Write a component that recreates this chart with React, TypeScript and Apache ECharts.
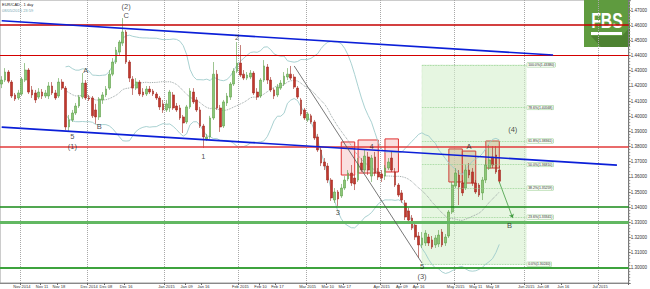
import React, { useEffect, useRef } from 'react';
import * as echarts from 'echarts';

// ---------- data ----------
const categoryStart = [2014, 9, 24];
const categoryCount = 187;

function buildWeekdays(): string[] {
  const out: string[] = [];
  const d = new Date(Date.UTC(categoryStart[0], categoryStart[1], categoryStart[2]));
  while (out.length < categoryCount) {
    const wd = d.getUTCDay();
    if (wd !== 0 && wd !== 6) out.push(d.toISOString().slice(0, 10));
    d.setUTCDate(d.getUTCDate() + 1);
  }
  return out;
}
const categories = buildWeekdays();

// [open, close, low, high]
const ohlc: number[][] = [
  [1.4212, 1.4238, 1.4185, 1.4264], [1.4238, 1.4291, 1.4225, 1.4317], [1.4291, 1.4231, 1.4218, 1.4304],
  [1.4225, 1.4133, 1.4120, 1.4238], [1.4140, 1.4113, 1.4100, 1.4153], [1.4120, 1.4153, 1.4107, 1.4173],
  [1.4146, 1.4244, 1.4133, 1.4258], [1.4238, 1.4304, 1.4225, 1.4350], [1.4304, 1.4159, 1.4146, 1.4317],
  [1.4173, 1.4140, 1.4120, 1.4199], [1.4153, 1.4107, 1.4087, 1.4173], [1.4126, 1.4159, 1.4113, 1.4185],
  [1.4159, 1.4133, 1.4113, 1.4179], [1.4133, 1.4153, 1.4120, 1.4173], [1.4133, 1.4199, 1.4113, 1.4225],
  [1.4199, 1.4153, 1.4140, 1.4225], [1.4153, 1.4120, 1.4107, 1.4173], [1.4133, 1.4225, 1.4120, 1.4251],
  [1.4225, 1.4185, 1.4173, 1.4244], [1.4185, 1.3929, 1.3909, 1.4199], [1.3929, 1.3975, 1.3902, 1.4008],
  [1.3975, 1.4021, 1.3962, 1.4041], [1.4021, 1.4067, 1.4008, 1.4087], [1.4067, 1.4126, 1.4054, 1.4140],
  [1.4126, 1.4218, 1.4113, 1.4284], [1.4218, 1.4120, 1.4107, 1.4238], [1.4120, 1.4113, 1.4100, 1.4140],
  [1.4120, 1.4002, 1.3988, 1.4133], [1.4041, 1.3995, 1.3949, 1.4081], [1.3995, 1.4113, 1.3975, 1.4126],
  [1.4107, 1.4140, 1.4081, 1.4159], [1.4140, 1.4179, 1.4126, 1.4199], [1.4185, 1.4277, 1.4173, 1.4304],
  [1.4277, 1.4357, 1.4264, 1.4383], [1.4357, 1.4436, 1.4344, 1.4456], [1.4423, 1.4489, 1.4403, 1.4502],
  [1.4482, 1.4555, 1.4463, 1.4647], [1.4555, 1.4357, 1.4344, 1.4568], [1.4357, 1.4251, 1.4225, 1.4370],
  [1.4244, 1.4185, 1.4140, 1.4264], [1.4185, 1.4225, 1.4173, 1.4251], [1.4225, 1.4146, 1.4133, 1.4238],
  [1.4159, 1.4140, 1.4126, 1.4185], [1.4146, 1.4179, 1.4133, 1.4199], [1.4179, 1.4159, 1.4146, 1.4199],
  [1.4166, 1.4146, 1.4133, 1.4179], [1.4146, 1.4120, 1.4107, 1.4159], [1.4120, 1.4061, 1.4041, 1.4133],
  [1.4081, 1.4041, 1.4021, 1.4107], [1.4041, 1.4081, 1.4028, 1.4107], [1.4054, 1.4159, 1.4028, 1.4173],
  [1.4140, 1.4054, 1.4041, 1.4159], [1.4067, 1.4041, 1.4028, 1.4087], [1.4054, 1.3988, 1.3975, 1.4074],
  [1.3995, 1.3955, 1.3889, 1.4008], [1.3962, 1.4061, 1.3949, 1.4074], [1.4061, 1.4166, 1.4048, 1.4185],
  [1.4159, 1.4094, 1.4081, 1.4185], [1.4107, 1.4041, 1.4028, 1.4126], [1.4041, 1.3935, 1.3922, 1.4061],
  [1.3935, 1.3863, 1.3790, 1.3949], [1.3850, 1.3863, 1.3836, 1.3883], [1.3863, 1.3988, 1.3850, 1.4002],
  [1.3988, 1.4277, 1.3975, 1.4357], [1.4277, 1.4054, 1.4041, 1.4304], [1.4054, 1.3929, 1.3896, 1.4074],
  [1.3935, 1.4094, 1.3922, 1.4107], [1.4087, 1.4133, 1.4067, 1.4153], [1.4126, 1.4212, 1.4107, 1.4225],
  [1.4212, 1.4297, 1.4199, 1.4317], [1.4297, 1.4350, 1.4284, 1.4489], [1.4350, 1.4271, 1.4258, 1.4469],
  [1.4277, 1.4251, 1.4238, 1.4304], [1.4251, 1.4271, 1.4238, 1.4291], [1.4258, 1.4284, 1.4244, 1.4304],
  [1.4284, 1.4153, 1.4140, 1.4297], [1.4159, 1.4126, 1.4107, 1.4185], [1.4133, 1.4238, 1.4120, 1.4251],
  [1.4238, 1.4331, 1.4225, 1.4370], [1.4324, 1.4238, 1.4212, 1.4344], [1.4238, 1.4173, 1.4159, 1.4258],
  [1.4173, 1.4133, 1.4113, 1.4185], [1.4140, 1.4192, 1.4126, 1.4212], [1.4185, 1.4218, 1.4173, 1.4238],
  [1.4212, 1.4264, 1.4199, 1.4291], [1.4258, 1.4277, 1.4238, 1.4317], [1.4277, 1.4251, 1.4238, 1.4331],
  [1.4258, 1.4192, 1.4179, 1.4277], [1.4185, 1.4126, 1.4113, 1.4199], [1.4107, 1.4015, 1.4002, 1.4120],
  [1.4041, 1.3988, 1.3975, 1.4054], [1.3975, 1.4015, 1.3962, 1.4028], [1.4002, 1.3962, 1.3949, 1.4015],
  [1.3962, 1.3856, 1.3843, 1.3975], [1.3863, 1.3777, 1.3764, 1.3883], [1.3777, 1.3691, 1.3671, 1.3797],
  [1.3698, 1.3671, 1.3645, 1.3724], [1.3671, 1.3579, 1.3559, 1.3691], [1.3579, 1.3461, 1.3441, 1.3592],
  [1.3447, 1.3500, 1.3428, 1.3526], [1.3500, 1.3454, 1.3408, 1.3513], [1.3474, 1.3526, 1.3461, 1.3553],
  [1.3526, 1.3579, 1.3513, 1.3605], [1.3586, 1.3625, 1.3572, 1.3645], [1.3625, 1.3559, 1.3540, 1.3678],
  [1.3592, 1.3553, 1.3513, 1.3612], [1.3579, 1.3685, 1.3566, 1.3724], [1.3691, 1.3645, 1.3632, 1.3724],
  [1.3645, 1.3737, 1.3625, 1.3777], [1.3731, 1.3645, 1.3612, 1.3764], [1.3605, 1.3724, 1.3566, 1.3744],
  [1.3731, 1.3625, 1.3605, 1.3764], [1.3632, 1.3599, 1.3579, 1.3658], [1.3619, 1.3592, 1.3566, 1.3645],
  [1.3605, 1.3658, 1.3579, 1.3678], [1.3658, 1.3698, 1.3645, 1.3724], [1.3724, 1.3645, 1.3632, 1.3764],
  [1.3632, 1.3546, 1.3533, 1.3658], [1.3546, 1.3480, 1.3467, 1.3559], [1.3494, 1.3447, 1.3428, 1.3513],
  [1.3428, 1.3335, 1.3315, 1.3447], [1.3375, 1.3315, 1.3295, 1.3395], [1.3328, 1.3262, 1.3249, 1.3348],
  [1.3282, 1.3203, 1.3184, 1.3302], [1.3210, 1.3151, 1.3065, 1.3236], [1.3151, 1.3197, 1.3131, 1.3236],
  [1.3164, 1.3229, 1.3144, 1.3249], [1.3203, 1.3164, 1.3144, 1.3223], [1.3184, 1.3137, 1.3124, 1.3210],
  [1.3151, 1.3197, 1.3131, 1.3216], [1.3157, 1.3216, 1.3137, 1.3249], [1.3236, 1.3151, 1.3137, 1.3256],
  [1.3164, 1.3203, 1.3144, 1.3223], [1.3210, 1.3368, 1.3197, 1.3381], [1.3368, 1.3546, 1.3355, 1.3566],
  [1.3540, 1.3625, 1.3526, 1.3658], [1.3612, 1.3533, 1.3414, 1.3645], [1.3559, 1.3494, 1.3474, 1.3579],
  [1.3526, 1.3645, 1.3513, 1.3678], [1.3645, 1.3612, 1.3592, 1.3691], [1.3632, 1.3559, 1.3540, 1.3658],
  [1.3559, 1.3500, 1.3487, 1.3579], [1.3546, 1.3480, 1.3467, 1.3559], [1.3494, 1.3579, 1.3447, 1.3599],
  [1.3579, 1.3678, 1.3559, 1.3711], [1.3658, 1.3711, 1.3645, 1.3810], [1.3731, 1.3678, 1.3658, 1.3803],
  [1.3744, 1.3632, 1.3619, 1.3803], [1.3645, 1.35716, 1.3559, 1.3671],
];

const xLabelDates = [
  '2014-11-03', '2014-11-11', '2014-11-18', '2014-12-01', '2014-12-08', '2014-12-16',
  '2015-01-01', '2015-01-09', '2015-01-16', '2015-02-02', '2015-02-10', '2015-02-17',
  '2015-03-02', '2015-03-10', '2015-03-17', '2015-04-01', '2015-04-09', '2015-04-16',
  '2015-05-01', '2015-05-11', '2015-05-18', '2015-06-01', '2015-06-08', '2015-06-16', '2015-07-01',
];
const xLabelTexts = [
  'Nov 2014', 'Nov 11', 'Nov 18', 'Dec 2014', 'Dec 08', 'Dec 16',
  'Jan 2015', 'Jan 09', 'Jan 16', 'Feb 2015', 'Feb 10', 'Feb 17',
  'Mar 2015', 'Mar 10', 'Mar 17', 'Apr 2015', 'Apr 09', 'Apr 16',
  'May 2015', 'May 11', 'May 18', 'Jun 2015', 'Jun 08', 'Jun 16', 'Jul 2015',
];
const monthStartDates = [
  '2014-11-03', '2014-12-01', '2015-01-01', '2015-02-02', '2015-03-02',
  '2015-04-01', '2015-05-01', '2015-06-01', '2015-07-01',
];

const redLevels = [1.4621, 1.4403, 1.3751];
const greenLevels = [1.3408, 1.3309, 1.3013];

const blueTrendLines = [
  { from: ['2014-10-24', 1.4629], to: ['2015-06-11', 1.4403] },
  { from: ['2014-10-24', 1.3928], to: ['2015-07-08', 1.3677] },
];
const blackTrendLines = [
  { from: ['2015-02-24', 1.4331], to: ['2015-04-17', 1.3032] },
];
const arrowLines = [
  { from: ['2015-05-20', 1.3566], to: ['2015-05-26', 1.3328] },
];

const redBoxes = [
  { from: '2015-03-16', to: '2015-03-20', high: 1.3830, low: 1.3612 },
  { from: '2015-03-23', to: '2015-03-31', high: 1.3843, low: 1.3625 },
  { from: '2015-04-02', to: '2015-04-08', high: 1.3850, low: 1.3632 },
];
const tanBoxes = [
  { from: '2015-04-29', to: '2015-05-05', high: 1.3784, low: 1.3566 },
  { from: '2015-05-05', to: '2015-05-11', high: 1.3770, low: 1.3559 },
  { from: '2015-05-14', to: '2015-05-20', high: 1.3836, low: 1.3658 },
];

const fibStart = '2015-04-17';
const fibEnd = '2015-06-01';
const fibRatios = ['0.0%', '23.6%', '38.2%', '50.0%', '61.8%', '78.6%', '100.0%'];
const fibValues = [1.30240, 1.33341, 1.35259, 1.36810, 1.38361, 1.40568, 1.43380];

const waveDates = [
  '2014-11-24', '2014-11-24', '2014-11-28', '2014-12-04', '2014-12-16', '2014-12-16',
  '2015-01-30', '2015-01-16', '2015-03-13', '2015-03-27', '2015-05-07', '2015-05-26',
  '2015-05-25', '2015-04-17', '2015-04-17',
];
const wavePrices = [
  1.3863, 1.3803, 1.4304, 1.3935, 1.4726, 1.4667,
  1.4522, 1.3737, 1.3368, 1.3797, 1.3797, 1.3909,
  1.3282, 1.3012, 1.2944,
];
const waveTexts = ['5', '(1)', 'A', 'B', '(2)', 'C', '2', '1', '3', '4', 'A', '(4)', 'B', '5', '(3)'];

const priceTags = [1.36591, 1.35716];

const bbPeriod = 20;
const bbK = 2;

// ---------- helpers ----------
function bollinger(closes: number[]) {
  const up: (number | null)[] = [];
  const mid: (number | null)[] = [];
  const low: (number | null)[] = [];
  closes.forEach((_, i) => {
    if (i < bbPeriod - 1) {
      up.push(null); mid.push(null); low.push(null);
      return;
    }
    const w = closes.slice(i - bbPeriod + 1, i + 1);
    const m = w.reduce((a, b) => a + b, 0) / bbPeriod;
    const sd = Math.sqrt(w.reduce((a, b) => a + (b - m) * (b - m), 0) / bbPeriod);
    up.push(m + bbK * sd); mid.push(m); low.push(m - bbK * sd);
  });
  return { up, mid, low };
}

export default function App() {
  const ref = useRef<HTMLDivElement>(null);
  useEffect(() => {
    if (!ref.current) return;
    const chart = echarts.init(ref.current, undefined, { renderer: 'svg' });
    const closes = ohlc.map((d) => d[1]);
    const bb = bollinger(closes);
    const labelMap = new Map<string, string>();
    xLabelDates.forEach((d, i) => labelMap.set(d, xLabelTexts[i]));

    const font = 'Liberation Sans, Arial, sans-serif';

    const markLines: any[] = [];
    const redStyles = [
      { color: '#c40000', width: 1.5 },
      { color: '#d40000', width: 1 },
      { color: '#e23a3a', width: 1.6 },
    ];
    redLevels.forEach((v, i) => {
      markLines.push({ yAxis: v, lineStyle: { ...redStyles[i], type: 'solid' } });
    });
    const greenStyles = [
      { color: '#178a17', width: 1.5 },
      { color: '#62b862', width: 2.8 },
      { color: '#3da33d', width: 2 },
    ];
    greenLevels.forEach((v, i) => {
      markLines.push({ yAxis: v, lineStyle: { ...greenStyles[i], type: 'solid' } });
    });
    blueTrendLines.forEach((l) => {
      markLines.push([
        { coord: l.from, lineStyle: { color: '#0b1fd8', width: 1.6, type: 'solid' } },
        { coord: l.to },
      ]);
    });
    blackTrendLines.forEach((l) => {
      markLines.push([
        { coord: l.from, lineStyle: { color: '#555', width: 0.8, type: 'solid' } },
        { coord: l.to },
      ]);
    });
    arrowLines.forEach((l) => {
      markLines.push([
        { coord: l.from, lineStyle: { color: '#3f9a3f', width: 0.8, type: 'solid' } },
        { coord: l.to, symbol: 'arrow', symbolSize: 4 },
      ]);
    });
    fibValues.forEach((v, i) => {
      markLines.push([
        {
          coord: [fibStart, v],
          lineStyle: { color: '#8fcf8a', width: 0.8, type: 'dotted' },
          label: {
            show: true,
            position: 'end',
            distance: 1,
            formatter: `${fibRatios[i]}(${v.toFixed(5)})`,
            fontSize: 3.4,
            color: '#333',
            backgroundColor: '#f4fbf1',
            borderColor: '#9ccf96',
            borderWidth: 0.5,
            padding: [0.5, 1],
            fontFamily: font,
          },
        },
        { coord: [fibEnd, v] },
      ]);
    });
    priceTags.forEach((v, i) => {
      markLines.push({
        yAxis: v,
        lineStyle: { opacity: 0 },
        label: {
          show: true,
          position: 'end',
          distance: 1,
          formatter: v.toFixed(5),
          fontSize: 4.5,
          color: '#111',
          backgroundColor: i === 0 ? '#cfe4f5' : '#ffffff',
          borderColor: i === 0 ? '#9cc0dd' : '#8a2a2a',
          borderWidth: 0.5,
          padding: [0.5, 1],
          fontFamily: font,
        },
      });
    });

    const markAreas: any[] = [];
    markAreas.push([
      {
        xAxis: fibStart,
        yAxis: fibValues[fibValues.length - 1],
        itemStyle: { color: 'rgba(214,240,205,0.6)', borderColor: '#bfe3b8', borderWidth: 0.6, borderType: 'dotted' },
      },
      { xAxis: fibEnd, yAxis: fibValues[0] },
    ]);
    redBoxes.forEach((b) => {
      markAreas.push([
        { xAxis: b.from, yAxis: b.high, itemStyle: { color: 'rgba(245,185,185,0.45)', borderColor: '#e03030', borderWidth: 1 } },
        { xAxis: b.to, yAxis: b.low },
      ]);
    });
    tanBoxes.forEach((b) => {
      markAreas.push([
        { xAxis: b.from, yAxis: b.high, itemStyle: { color: 'rgba(205,185,150,0.55)', borderColor: '#d0403a', borderWidth: 1 } },
        { xAxis: b.to, yAxis: b.low },
      ]);
    });

    const option: any = {
      animation: false,
      backgroundColor: '#ffffff',
      textStyle: { fontFamily: font },
      title: {
        text: 'EUR/CAD - 1 day',
        subtext: '08/05/2015 23:59',
        left: 2,
        top: 2,
        itemGap: 2,
        padding: 0,
        textStyle: { fontSize: 4, color: '#222', fontWeight: 'normal', fontFamily: font },
        subtextStyle: { fontSize: 4, color: '#7aaab6', fontFamily: font },
      },
      grid: { left: 0, right: 19, top: 0, bottom: 6, show: true, borderColor: '#9a9a9a', borderWidth: 1 },
      xAxis: {
        type: 'category',
        data: categories,
        boundaryGap: true,
        axisLine: { show: true, lineStyle: { color: '#888', width: 1 } },
        axisTick: {
          show: true,
          interval: (_i: number, v: string) => labelMap.has(v),
          length: 2,
          lineStyle: { color: '#666' },
        },
        axisLabel: {
          interval: (_i: number, v: string) => labelMap.has(v),
          formatter: (v: string) => labelMap.get(v) || '',
          fontSize: 4,
          color: '#333',
          margin: 1,
          fontFamily: font,
        },
        splitLine: {
          show: true,
          interval: (_i: number, v: string) => monthStartDates.includes(v),
          lineStyle: { type: 'dotted', color: '#a8a8a8', width: 1 },
        },
      },
      yAxis: {
        type: 'value',
        position: 'right',
        min: 1.29,
        max: 1.4766,
        interval: 0.01,
        axisLine: { show: true, lineStyle: { color: '#777' } },
        axisTick: { show: true, length: 2, lineStyle: { color: '#777' } },
        minorTick: { show: true, splitNumber: 5, length: 1.5, lineStyle: { color: '#999' } },
        splitLine: { show: false },
        axisLabel: {
          fontSize: 4.5,
          color: '#333',
          margin: 2,
          showMinLabel: false,
          showMaxLabel: false,
          fontFamily: font,
          formatter: (v: number) => v.toFixed(5),
        },
      },
      series: [
        {
          name: 'BB upper',
          type: 'line',
          data: bb.up,
          symbol: 'none',
          lineStyle: { color: '#9fcccc', width: 0.9 },
          z: 2,
          silent: true,
        },
        {
          name: 'BB middle',
          type: 'line',
          data: bb.mid,
          symbol: 'none',
          lineStyle: { color: '#8f9a9a', width: 0.9, type: 'dotted' },
          z: 2,
          silent: true,
        },
        {
          name: 'BB lower',
          type: 'line',
          data: bb.low,
          symbol: 'none',
          lineStyle: { color: '#9fcccc', width: 0.9 },
          z: 2,
          silent: true,
        },
        {
          name: 'EUR/CAD',
          type: 'candlestick',
          data: ohlc,
          barWidth: '66%',
          z: 3,
          itemStyle: {
            color: '#8cc777',
            color0: '#c2372c',
            borderColor: '#5b9e47',
            borderColor0: '#a02a22',
            borderWidth: 0.6,
          },
          markArea: { silent: true, data: markAreas },
          markLine: {
            silent: true,
            symbol: ['none', 'none'],
            label: { show: false },
            data: markLines,
          },
        },
        {
          name: 'waves',
          type: 'scatter',
          data: waveDates.map((d, i) => [d, wavePrices[i], waveTexts[i]]),
          symbol: 'circle',
          symbolSize: 1,
          itemStyle: { color: 'rgba(0,0,0,0)' },
          z: 6,
          silent: true,
          label: {
            show: true,
            position: 'inside',
            formatter: (p: any) => p.data[2],
            fontSize: 7.5,
            color: '#1a1a1a',
            textBorderWidth: 0,
            fontFamily: font,
          },
        },
      ],
      graphic: [
        {
          type: 'group',
          left: 584,
          top: 0,
          z: 20,
          children: [
            { type: 'rect', shape: { x: 0, y: 0, width: 46, height: 47 }, style: { fill: '#5f9b3f' } },
            {
              type: 'polygon',
              shape: { points: [[7, 36], [38, 36], [46, 27], [46, 47], [17, 47]] },
              style: { fill: '#4d8231' },
            },
            {
              type: 'text',
              x: 23,
              y: 21,
              scaleX: 0.72,
              style: {
                text: 'FBS',
                fontSize: 22,
                fontWeight: 'bold',
                fill: '#ffffff',
                align: 'center',
                verticalAlign: 'middle',
                fontFamily: font,
              },
            },
            { type: 'rect', shape: { x: 7, y: 32, width: 31, height: 3 }, style: { fill: '#ffffff' } },
          ],
        },
      ],
    };
    chart.setOption(option);
    return () => chart.dispose();
  }, []);
  return (
    <div
      ref={ref}
      style={{ position: 'absolute', left: 0, top: 0, width: 650, height: 289 }}
    />
  );
}
